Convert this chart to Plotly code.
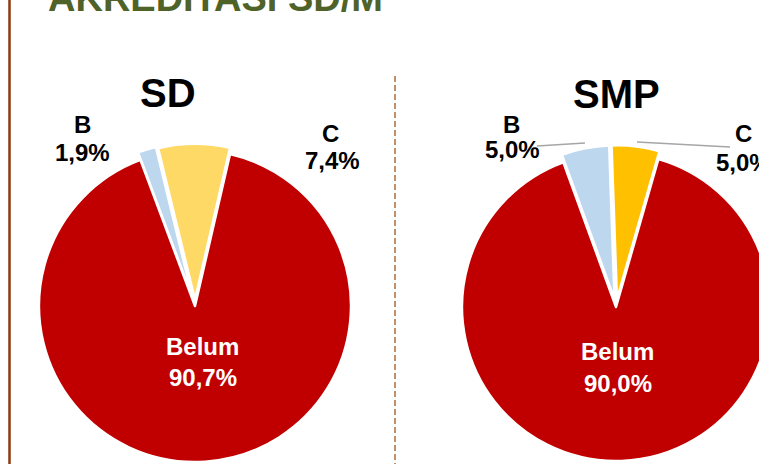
import plotly.graph_objects as go

# ---------------- data ----------------
categories = ["B", "C", "Belum"]
sd_values = [1.9, 7.4, 90.7]
smp_values = [5.0, 5.0, 90.0]
chart_titles = ["SD", "SMP"]
main_title = "AKREDITASI SD/M"

sd_colors = ["#BDD7EE", "#FFD966", "#C00000"]
smp_colors = ["#BDD7EE", "#FFC000", "#C00000"]

# ---------------- layout helpers (pixel geometry) ----------------
W, H = 800, 480          # figure slightly larger than viewport; right/bottom cropped like the slide
FONT = "Liberation Sans, Arial, sans-serif"


def px(x):
    return x / W


def py(y):
    return 1 - y / H


def domain(cx, cy, r, pull):
    half = r * (1 + pull)
    return dict(x=[px(cx - half), px(cx + half)], y=[py(cy + half), py(cy - half)])


def fmt(v):
    return f"{v:.1f}".replace(".", ",") + "%"


pies = [
    dict(values=sd_values, colors=sd_colors, cx=195, cy=306, r=156,
         pull=[0.05, 0.04, 0], rot=-20.5),
    dict(values=smp_values, colors=smp_colors, cx=616, cy=307, r=154,
         pull=[0.05, 0.05, 0], rot=-20.0),
]

fig = go.Figure()
for p in pies:
    fig.add_trace(go.Pie(
        labels=categories, values=p["values"], sort=False, direction="clockwise",
        rotation=p["rot"], pull=p["pull"],
        marker=dict(colors=p["colors"], line=dict(color="white", width=2.5)),
        textinfo="none", hoverinfo="none", showlegend=False,
        domain=domain(p["cx"], p["cy"], p["r"], max(p["pull"])),
    ))

annotations = []


def ann(text, x, y, size, color="black", xanchor="center"):
    annotations.append(dict(
        text=text, x=px(x), y=py(y), xref="paper", yref="paper",
        xanchor=xanchor, yanchor="middle", showarrow=False,
        font=dict(family=FONT, size=size, color=color),
    ))


# main slide title (cropped at top)
ann(f"<b>{main_title}</b>", 46, -1.5, 38, color="#4F6228", xanchor="left")

# chart titles
title_pos = [(168, 92.5), (616, 93.5)]
for t, (x, y) in zip(chart_titles, title_pos):
    ann(f"<b>{t}</b>", x, y, 40)

# slice labels: (label position, value position) per category per chart
label_pos = [
    [((82, 124.5), (82, 152.5)), ((330, 133.5), (332, 160.5)), ((202, 346.5), (203, 377.5))],
    [((511, 124.5), (512, 149.5)), ((743, 133.5), (743, 162.5)), ((617, 351.5), (618, 383))],
]
vals = [sd_values, smp_values]
for ci in range(2):
    for k, cat in enumerate(categories):
        (lx, ly), (vx, vy) = label_pos[ci][k]
        col = "white" if cat == "Belum" else "black"
        ann(f"<b>{cat}</b>", lx, ly, 24, color=col)
        ann(f"<b>{fmt(vals[ci][k])}</b>", vx, vy, 24, color=col)

shapes = [
    # left brown border
    dict(type="line", xref="paper", yref="paper", x0=px(9.5), x1=px(9.5), y0=py(0), y1=py(H),
         line=dict(color="#8B3A0F", width=2.5)),
    # dashed divider
    dict(type="line", xref="paper", yref="paper", x0=px(395), x1=px(395), y0=py(76), y1=py(H),
         line=dict(color="#C0906A", width=2, dash="6px,3px")),
    # SMP leader lines
    dict(type="line", xref="paper", yref="paper", x0=px(537), x1=px(585), y0=py(146), y1=py(143),
         line=dict(color="#A6A6A6", width=1.5)),
    dict(type="line", xref="paper", yref="paper", x0=px(637), x1=px(730), y0=py(142), y1=py(147),
         line=dict(color="#A6A6A6", width=1.5)),
]

fig.update_layout(
    width=W, height=H, margin=dict(l=0, r=0, t=0, b=0),
    paper_bgcolor="white", plot_bgcolor="white",
    annotations=annotations, shapes=shapes,
    font=dict(family=FONT),
)

fig.write_html("out.html", post_script="document.body.style.margin='0';document.body.style.overflow='hidden';")
